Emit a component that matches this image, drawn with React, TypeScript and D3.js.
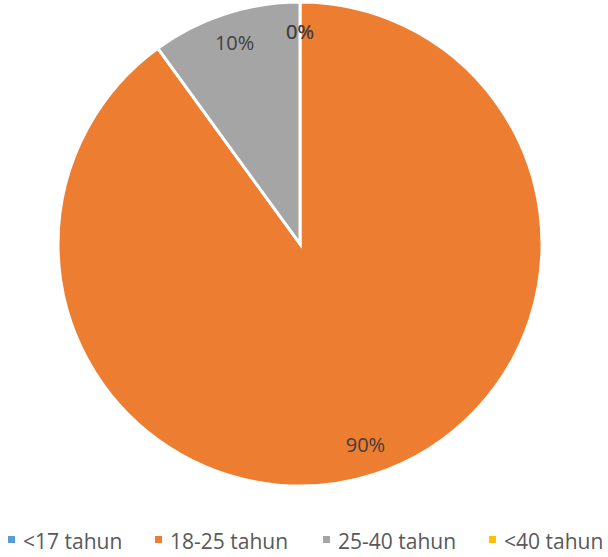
import * as d3 from "d3";

const categories = ["<17 tahun", "18-25 tahun", "25-40 tahun", "<40 tahun"];
const values = [0, 90, 10, 0];
const labels = ["0%", "90%", "10%", "0%"];
const colors = ["#5B9BD5", "#ED7D31", "#A5A5A5", "#FFC000"];

const W = 608;
const H = 557;
const CX = 300;
const CY = 244;
const R = 242;

export default function App() {
  const pie = d3
    .pie<number>()
    .sort(null)
    .value((d) => d);
  const arcs = pie(values);
  const arc = d3.arc<d3.PieArcDatum<number>>().innerRadius(0).outerRadius(R);
  const labelArc = d3
    .arc<d3.PieArcDatum<number>>()
    .innerRadius(R * 0.875)
    .outerRadius(R * 0.875);

  // legend x positions (square left edge)
  const legendX = d3
    .scaleOrdinal<string, number>()
    .domain(categories)
    .range([8, 155, 323, 489]);

  return (
    <svg
      width={W}
      height={H}
      style={{ position: "absolute", left: 0, top: 0 }}
      fontFamily="'Open Sans', 'Noto Sans', sans-serif"
    >
      <rect width={W} height={H} fill="#ffffff" />
      <g transform={`translate(${CX},${CY})`}>
        {arcs.map((a, i) => (
          <path
            key={i}
            d={arc(a) ?? ""}
            fill={colors[i]}
            stroke="#ffffff"
            strokeWidth={values[i] > 0 ? 3 : 0}
          />
        ))}
        {arcs.map((a, i) => {
          const [x, y] = labelArc.centroid(a);
          return (
            <text
              key={i}
              x={x}
              y={y}
              dy="0.35em"
              textAnchor="middle"
              fontSize={20}
              fill="#404040"
            >
              {labels[i]}
            </text>
          );
        })}
      </g>
      <g>
        {categories.map((c, i) => (
          <g key={c} transform={`translate(${legendX(c)},0)`}>
            <rect x={0} y={536} width={7} height={7} fill={colors[i]} />
            <text x={15} y={549} fontSize={21} fill="#595959">
              {c}
            </text>
          </g>
        ))}
      </g>
    </svg>
  );
}
